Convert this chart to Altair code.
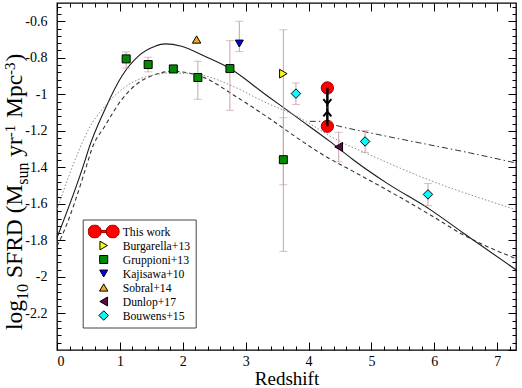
import altair as alt
import pandas as pd

FONT = "Liberation Serif"

# ---------- model curves: redshift vs log10 SFRD ----------
solid_z = [0.0, 0.45, 0.50, 0.76, 1.03, 1.29, 1.56, 1.72, 1.98, 2.35, 2.75, 3.33, 3.86, 4.34, 4.71, 5.24, 5.93, 6.46, 7.3]
solid_v = [-1.785, -1.358, -1.303, -1.084, -0.901, -0.792, -0.737, -0.724, -0.737, -0.792, -0.859, -1.005, -1.137, -1.258, -1.358, -1.485, -1.63, -1.759, -1.961]

dashed_z = [0.0, 0.05, 0.50, 0.55, 0.76, 1.03, 1.29, 1.56, 1.82, 2.09, 2.35, 2.80, 3.33, 3.86, 4.18, 4.71, 5.24, 5.93, 6.46, 7.3]
dashed_v = [-1.83, -1.796, -1.358, -1.303, -1.175, -1.029, -0.938, -0.892, -0.874, -0.883, -0.910, -1.002, -1.121, -1.248, -1.321, -1.422, -1.522, -1.659, -1.769, -1.90]

dotted_z = [0.0, 0.37, 0.50, 0.76, 1.03, 1.29, 1.56, 1.82, 2.25, 2.80, 3.33, 3.76, 4.50, 4.90, 5.77, 7.3]
dotted_v = [-1.63, -1.29, -1.193, -1.066, -0.974, -0.919, -0.892, -0.883, -0.892, -0.956, -1.047, -1.111, -1.258, -1.32, -1.449, -1.632]

dashdot_z = [4.02, 4.21, 4.39, 4.98, 5.77, 6.57, 7.3]
dashdot_v = [-1.148, -1.148, -1.166, -1.211, -1.266, -1.321, -1.376]

# ---------- observational estimates (value, lower, upper) ----------
burgarella_z = [3.6]
burgarella_v = [-0.887]
burgarella_lo = [-1.495]
burgarella_hi = [-0.647]

gruppioni_z = [1.1, 1.45, 1.85, 2.24, 2.75, 3.6]
gruppioni_v = [-0.806, -0.837, -0.861, -0.908, -0.859, -1.358]
gruppioni_lo = [-0.857, -0.877, None, -1.027, -1.088, -1.86]
gruppioni_hi = [-0.768, -0.797, None, -0.819, -0.706, -1.128]

kajisawa_z = [2.9]
kajisawa_v = [-0.722]
kajisawa_lo = [-0.766]
kajisawa_hi = [-0.60]

sobral_z = [2.22]
sobral_v = [-0.70]
sobral_lo = [None]
sobral_hi = [None]

dunlop_z = [4.48]
dunlop_v = [-1.288]
dunlop_lo = [-1.37]
dunlop_hi = [-1.208]

bouwens_z = [3.8, 4.9, 5.9]
bouwens_v = [-0.996, -1.258, -1.548]
bouwens_lo = [-1.056, -1.318, -1.61]
bouwens_hi = [-0.938, -1.199, -1.488]

# this work: upper and lower estimate at the same redshift
this_work_z = [4.3, 4.3]
this_work_v = [-0.965, -1.175]
this_work_head = [-1.04, -1.108]
this_work_meet = [-1.072, -1.072]

# ---------- legend styling per source ----------
sources = ["This work", "Burgarella+13", "Gruppioni+13", "Kajisawa+10", "Sobral+14", "Dunlop+17", "Bouwens+15"]
fills = ["#ff0000", "#ffff00", "#008a00", "#0000ff", "#f5a623", "#5c0a46", "#00ffff"]
outlines = ["#990000", "#000000", "#000000", "#000000", "#000000", "#000000", "#000000"]
two_circles = ("M-1,0A0.42,0.42 0 1,0 -0.16,0A0.42,0.42 0 1,0 -1,0Z"
               "M0.16,0A0.42,0.42 0 1,0 1,0A0.42,0.42 0 1,0 0.16,0Z"
               "M-0.17,-0.07L0.17,-0.07L0.17,0.07L-0.17,0.07Z")
shapes = [two_circles, "triangle-right", "square", "triangle-down", "triangle-up", "triangle-left", "diamond"]
sizes = [961, 75, 64, 64, 70, 80, 90]

# ---------- tick positions ----------
x_major = [0, 1, 2, 3, 4, 5, 6, 7]
y_major = [-2.2, -2.0, -1.8, -1.6, -1.4, -1.2, -1.0, -0.8, -0.6]
x_minor = [round(0.2 * i, 1) for i in range(37) if i % 5]
y_minor = [round(-2.4 + 0.04 * i, 2) for i in range(48) if i % 5]

# ---------- tables ----------
def curve_df(zs, vs):
    return pd.DataFrame({"z": zs, "v": vs})

groups = [
    ("Burgarella+13", burgarella_z, burgarella_v, burgarella_lo, burgarella_hi),
    ("Gruppioni+13", gruppioni_z, gruppioni_v, gruppioni_lo, gruppioni_hi),
    ("Kajisawa+10", kajisawa_z, kajisawa_v, kajisawa_lo, kajisawa_hi),
    ("Sobral+14", sobral_z, sobral_v, sobral_lo, sobral_hi),
    ("Dunlop+17", dunlop_z, dunlop_v, dunlop_lo, dunlop_hi),
    ("Bouwens+15", bouwens_z, bouwens_v, bouwens_lo, bouwens_hi),
]
rows = []
for name, zs, vs, los, his in groups:
    for z, v, lo, hi in zip(zs, vs, los, his):
        rows.append({"src": name, "z": z, "v": v, "lo": lo, "hi": hi})
points = pd.DataFrame(rows)
errors = points.dropna(subset=["lo"])

mine = pd.DataFrame({"src": ["This work"] * len(this_work_z), "z": this_work_z, "v": this_work_v,
                     "head": this_work_head, "meet": this_work_meet})

# ---------- scales and axes ----------
xs = alt.Scale(domain=[0, 7.3], nice=False, zero=False)
ys = alt.Scale(domain=[-2.4, -0.5], nice=False, zero=False)


def tick_axis(orient, values, length, **extra):
    opts = dict(orient=orient, values=values, tickSize=length, offset=-length,
                domain=False, grid=False, labels=False, title=None,
                tickColor="black", tickWidth=1)
    opts.update(extra)
    return alt.Axis(**opts)


x_bottom = tick_axis("bottom", x_major, 8, labels=True, format="d", labelFont=FONT,
                     labelFontSize=14, labelColor="black", labelPadding=4,
                     title="Redshift", titleFont=FONT, titleFontSize=19,
                     titleFontWeight="normal", titleColor="black", titlePadding=1)
y_left = tick_axis("left", y_major, 8, labels=True, labelFont=FONT, labelFontSize=14,
                   labelColor="black", labelPadding=10,
                   labelExpr="datum.value < 0 ? '-' + format(-datum.value, '') : format(datum.value, '')")

legend = alt.Legend(
    title=None, orient="none", legendX=25.7, legendY=216.5, padding=5,
    fillColor="white", strokeColor="#444444", labelFont=FONT,
    labelFontSize=11.7, labelColor="black", labelOffset=3, symbolOffset=0,
    rowPadding=0, clipHeight=14, symbolOpacity=1, symbolStrokeWidth=1,
)

color_enc = alt.Color("src:N", scale=alt.Scale(domain=sources, range=fills), legend=legend)
stroke_enc = alt.Stroke("src:N", scale=alt.Scale(domain=sources, range=outlines), legend=legend)
shape_enc = alt.Shape("src:N", scale=alt.Scale(domain=sources, range=shapes), legend=legend)
size_enc = alt.Size("src:N", scale=alt.Scale(type="ordinal", domain=sources, range=sizes), legend=legend)


def xy(xaxis=None, yaxis=None, yfield="v"):
    return dict(x=alt.X("z:Q", scale=xs, axis=xaxis), y=alt.Y(f"{yfield}:Q", scale=ys, axis=yaxis))


# ---------- model curves (also carry the four tick frames) ----------
solid = alt.Chart(curve_df(solid_z, solid_v)).mark_line(
    color="#1a1a1a", strokeWidth=1.1, interpolate="monotone").encode(**xy(x_bottom, y_left))
dashed = alt.Chart(curve_df(dashed_z, dashed_v)).mark_line(
    color="#333333", strokeWidth=1.1, strokeDash=[4, 3], interpolate="monotone").encode(
    **xy(tick_axis("bottom", x_minor, 4), tick_axis("left", y_minor, 4)))
dotted = alt.Chart(curve_df(dotted_z, dotted_v)).mark_line(
    color="#8a8a8a", strokeWidth=1, strokeDash=[1.5, 2], interpolate="monotone").encode(
    **xy(tick_axis("top", x_major, 8), tick_axis("right", y_major + [-2.4], 8)))
dashdot = alt.Chart(curve_df(dashdot_z, dashdot_v)).mark_line(
    color="#333333", strokeWidth=1, strokeDash=[6, 3, 1.5, 3], interpolate="monotone").encode(
    **xy(tick_axis("top", x_minor, 4), tick_axis("right", y_minor, 4)))

# ---------- error bars ----------
err_color = "#c9a2a8"
err_base = alt.Chart(errors)
err_rule = err_base.mark_rule(color=err_color, strokeWidth=1).encode(
    **xy(yfield="lo"), y2="hi:Q")
err_lo = err_base.mark_tick(orient="horizontal", size=8, thickness=1, color=err_color).encode(**xy(yfield="lo"))
err_hi = err_base.mark_tick(orient="horizontal", size=8, thickness=1, color=err_color).encode(**xy(yfield="hi"))

# ---------- literature points ----------
pts = alt.Chart(points).mark_point(filled=True, opacity=1, strokeWidth=1).encode(
    **xy(), color=color_enc, stroke=stroke_enc, shape=shape_enc, size=size_enc)

# ---------- this work: two circles with converging arrows ----------
mine_pts = alt.Chart(mine).mark_point(filled=True, opacity=1, shape="circle", size=150,
                                      strokeWidth=1).encode(**xy(), color=color_enc, stroke=stroke_enc)
mine_rule = alt.Chart(mine).mark_rule(color="black", strokeWidth=2.5).encode(**xy(), y2="meet:Q")
head_down = alt.Chart(mine.iloc[[0]]).mark_point(
    shape="M-1,-0.6L0,0.6L1,-0.6", filled=False, size=64, stroke="black", strokeWidth=2,
    opacity=1).encode(**xy(yfield="head"))
head_up = alt.Chart(mine.iloc[[1]]).mark_point(
    shape="M-1,0.6L0,-0.6L1,0.6", filled=False, size=64, stroke="black", strokeWidth=2,
    opacity=1).encode(**xy(yfield="head"))

# ---------- y title with sub/superscripts (rotated pieces) ----------
title_pieces = [
    ("log", 22, 330, 23.5),
    ("10", 27.5, 300, 16),
    ("SFRD (M", 22, 278, 23.5),
    ("sun", 27.5, 184.8, 16),
    ("yr", 22, 156.7, 23.5),
    ("-1", 15, 137.2, 15),
    ("Mpc", 22, 118, 23.5),
    ("-3", 15, 74.9, 15),
    (")", 22, 61.6, 23.5),
]
title_layers = [
    alt.Chart(alt.Data(values=[{}])).mark_text(
        text=t, angle=270, align="left", baseline="alphabetic", font=FONT,
        fontSize=fs, color="black").encode(x=alt.value(px - 57), y=alt.value(py - 3))
    for t, px, py, fs in title_pieces
]

chart = alt.layer(
    solid, dashed, dotted, dashdot, err_rule, err_lo, err_hi, pts,
    mine_pts, mine_rule, head_down, head_up, *title_layers
).resolve_axis(
    x="independent", y="independent"
).properties(
    width=459, height=347,
    padding={"left": 57, "top": 3, "right": 6, "bottom": 38},
    autosize=alt.AutoSizeParams(type="none"),
).configure(
    font=FONT
).configure_axis(
    labelFont=FONT, titleFont=FONT, titleFontWeight="normal"
).configure_legend(
    labelFont=FONT
).configure_view(
    stroke="black", strokeWidth=1.3
)

chart.save("out.html", embed_options={"renderer": "svg", "actions": False})
